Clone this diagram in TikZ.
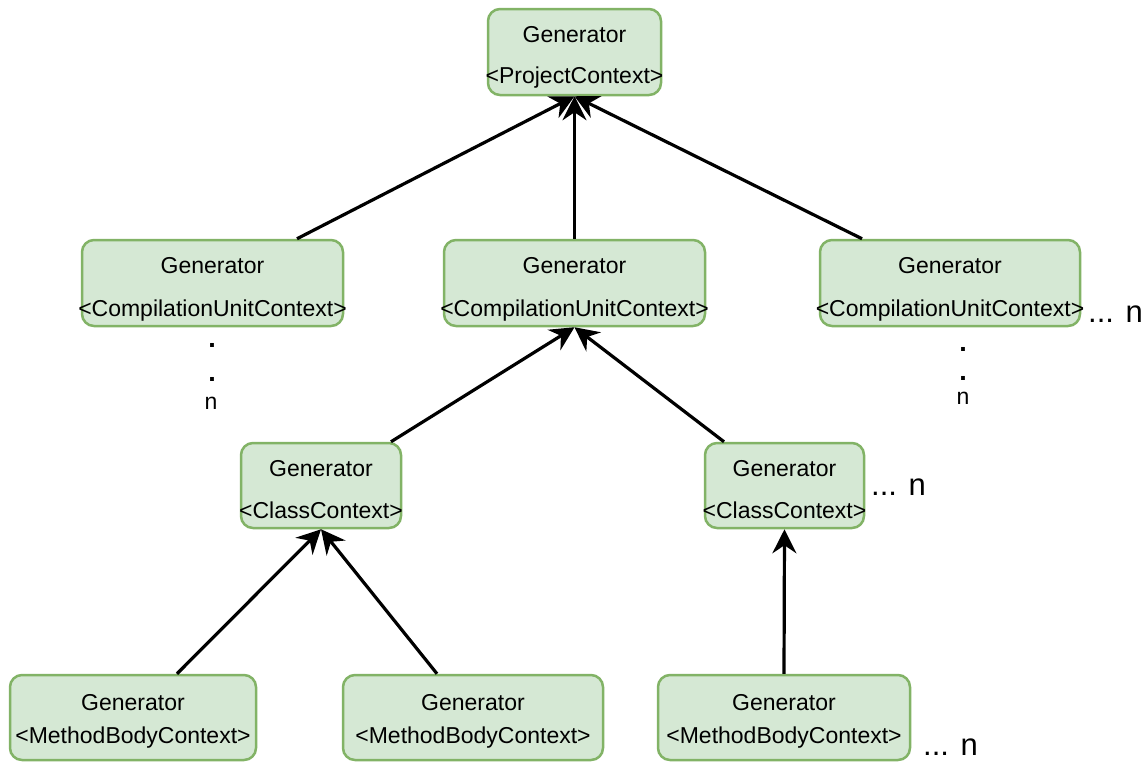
\documentclass[tikz,border=0pt]{standalone}
\usepackage{fontspec}
\setmainfont{Liberation Sans}
\usetikzlibrary{arrows.meta,calc}

\definecolor{boxfill}{HTML}{D5E8D4}
\definecolor{boxline}{HTML}{82B366}

\begin{document}
\begin{tikzpicture}[x=1pt,y=-1pt,
  gbox/.style={draw=boxline, fill=boxfill, line width=2.5pt, rounded corners=12pt,
               rectangle, inner sep=0pt},
  lbl/.style={font=\fontsize{23}{27}\selectfont, inner sep=0pt, anchor=base},
  dotmark/.style={font=\fontsize{27}{30}\selectfont\bfseries, inner sep=0pt, anchor=base},
  more/.style={font=\fontsize{31}{36}\selectfont, inner sep=0pt, anchor=base west},
  edge/.style={line width=3.2pt, -{Stealth[length=24pt,width=24pt,inset=8pt]}}
]
\useasboundingbox (0,0) rectangle (1148,761);

% generator boxes, by level
\node[gbox, minimum width=173pt, minimum height=86pt] (top) at (574.5,52) {};
\node[gbox, minimum width=261pt, minimum height=86pt] (cuL) at (212.5,283) {};
\node[gbox, minimum width=261pt, minimum height=86pt] (cuM) at (574.5,283) {};
\node[gbox, minimum width=260pt, minimum height=86pt] (cuR) at (950,283) {};
\node[gbox, minimum width=160pt, minimum height=85pt] (clL) at (321,485.5) {};
\node[gbox, minimum width=159pt, minimum height=85pt] (clR) at (784.5,485.5) {};
\node[gbox, minimum width=246pt, minimum height=85pt] (mbL) at (133,717.5) {};
\node[gbox, minimum width=260pt, minimum height=85pt] (mbM) at (473,717.5) {};
\node[gbox, minimum width=252pt, minimum height=85pt] (mbR) at (784,717.5) {};

% box captions
\node[lbl] (topG) at ($(top.center)+(0,-10)$) {Generator};
\node[lbl] (topC) at ($(top.center)+(0,31)$) {<ProjectContext>};
\foreach \n in {cuL,cuM,cuR}{
  \node[lbl] (\n G) at ($(\n.center)+(0,-10)$) {Generator};
  \node[lbl] (\n C) at ($(\n.center)+(0,33)$) {<CompilationUnitContext>};
}
\foreach \n in {clL,clR}{
  \node[lbl] (\n G) at ($(\n.center)+(0,-9.5)$) {Generator};
  \node[lbl] (\n C) at ($(\n.center)+(0,32.5)$) {<ClassContext>};
}
\foreach \n in {mbL,mbM,mbR}{
  \node[lbl] (\n G) at ($(\n.center)+(0,-7.5)$) {Generator};
  \node[lbl] (\n C) at ($(\n.center)+(0,25.5)$) {<MethodBodyContext>};
}

% repetition marks
\node[dotmark] (dotL1) at (212,347) {.};
\node[dotmark] (dotL2) at (212,381) {.};
\node[lbl] (nL) at (211,409) {n};
\node[dotmark] (dotR1) at (963,351) {.};
\node[dotmark] (dotR2) at (963,380) {.};
\node[lbl] (nR) at (963,404) {n};
\node[more] (moreCU) at (1088,322) {... n};
\node[more] (moreCl) at (871,495) {... n};
\node[more] (moreMB) at (923,755) {... n};

% connectors
\draw[edge] ($(cuL.north)+(84.5,0)$) -- (top.south);
\draw[edge] (cuM.north) -- (top.south);
\draw[edge] ($(cuR.north)+(-88,0)$) -- (top.south);
\draw[edge] ($(clL.north)+(70,0)$) -- (cuM.south);
\draw[edge] ($(clR.north)+(-60.5,0)$) -- (cuM.south);
\draw[edge] ($(mbL.north)+(44,0)$) -- (clL.south);
\draw[edge] ($(mbM.north)+(-36,0)$) -- (clL.south);
\draw[edge] (mbR.north) -- (clR.south);
\end{tikzpicture}
\end{document}
